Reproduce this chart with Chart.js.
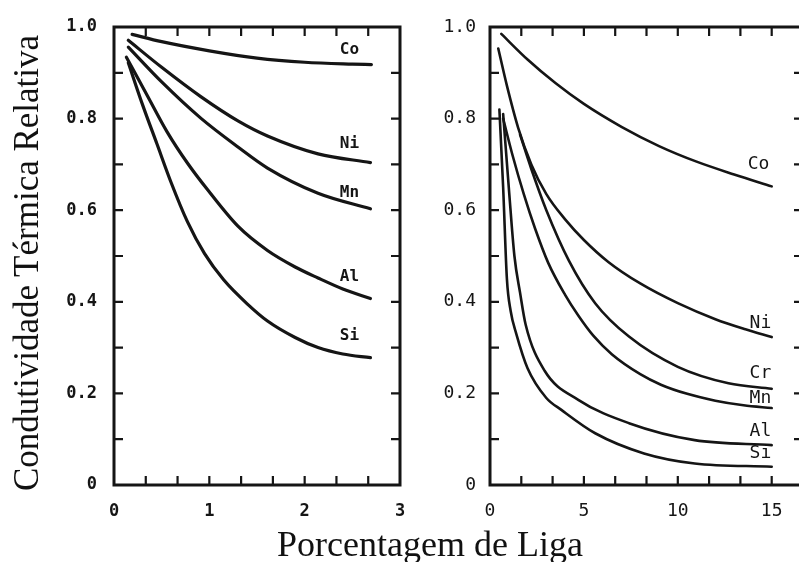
<!DOCTYPE html>
<html lang="pt">
<head>
<meta charset="UTF-8">
<title>Condutividade Térmica Relativa</title>
<script src="https://cdn.jsdelivr.net/npm/chart.js"></script>
<style>
  html, body { margin: 0; padding: 0; background: #fff; overflow: hidden; }
  body { width: 799px; height: 562px; position: relative; }
  .panel { position: absolute; top: 0; height: 562px; }
  #leftBox { left: 0; width: 420px; }
  #rightBox { left: 400px; width: 420px; }
  .serif { position: absolute; color: #111; font-family: 'Liberation Serif', serif; text-align: center; white-space: nowrap; }
  #xTitle { left: 0; width: 860px; top: 526px; font-size: 36px; line-height: 36px; }
  #yTitle {
    left: 27px; top: 263px; width: 520px; height: 40px;
    margin-left: -260px; margin-top: -20px;
    font-size: 35px; line-height: 40px;
    transform: rotate(-90deg);
  }
</style>
</head>
<body>
<div class="panel" id="leftBox"><canvas id="leftChart"></canvas></div>
<div class="panel" id="rightBox"><canvas id="rightChart"></canvas></div>
<div class="serif" id="yTitle">Condutividade Térmica Relativa</div>
<div class="serif" id="xTitle">Porcentagem de Liga</div>

<script>
  // ticks (labels only at the major values)
  const yTickValues = [0, 0.2, 0.4, 0.6, 0.8, 1.0];
  const yTickLabels = ['0', '0.2', '0.4', '0.6', '0.8', '1.0'];
  const leftXTickValues = [0, 1, 2, 3];
  const leftXTickLabels = ['0', '1', '2', '3'];
  const rightXTickValues = [0, 5, 10, 15];
  const rightXTickLabels = ['0', '5', '10', '15'];

  // left panel: 0 - 3 % alloy
  const leftCoX = [0.19, 0.5, 1.0, 1.5, 2.0, 2.5, 2.7];
  const leftCoY = [0.984, 0.968, 0.948, 0.932, 0.923, 0.919, 0.918];
  const leftNiX = [0.15, 0.5, 0.91, 1.3, 1.61, 2.14, 2.69];
  const leftNiY = [0.971, 0.912, 0.848, 0.795, 0.762, 0.723, 0.704];
  const leftMnX = [0.15, 0.5, 0.91, 1.3, 1.61, 2.14, 2.69];
  const leftMnY = [0.956, 0.88, 0.801, 0.738, 0.692, 0.637, 0.603];
  const leftAlX = [0.13, 0.35, 0.56, 0.77, 0.98, 1.3, 1.61, 1.9, 2.14, 2.4, 2.69];
  const leftAlY = [0.934, 0.85, 0.77, 0.703, 0.645, 0.565, 0.512, 0.476, 0.452, 0.428, 0.407];
  const leftSiX = [0.15, 0.3, 0.45, 0.6, 0.77, 0.95, 1.15, 1.4, 1.61, 1.9, 2.14, 2.4, 2.69];
  const leftSiY = [0.922, 0.83, 0.745, 0.66, 0.575, 0.505, 0.448, 0.395, 0.358, 0.322, 0.3, 0.286, 0.278];

  // right panel: 0 - 15 % alloy
  const rightCoX = [0.6, 2, 3.5, 5, 7, 9, 11, 13, 15];
  const rightCoY = [0.985, 0.929, 0.877, 0.832, 0.782, 0.74, 0.706, 0.678, 0.652];
  const rightNiX = [0.44, 0.9, 1.5, 2.2, 3, 4, 5, 6.3, 8, 10, 12, 13.6, 15];
  const rightNiY = [0.953, 0.872, 0.78, 0.7, 0.635, 0.58, 0.535, 0.487, 0.44, 0.397, 0.362, 0.34, 0.323];
  const rightCrX = [1.6, 2.2, 3, 4.2, 5.6, 7.4, 10, 12.7, 15];
  const rightCrY = [0.765, 0.69, 0.6, 0.49, 0.397, 0.324, 0.258, 0.222, 0.21];
  const rightMnX = [0.7, 1.2, 1.8, 2.4, 3.1, 4, 4.7, 5.5, 6.5, 8, 9.1, 10.5, 12, 13.5, 15];
  const rightMnY = [0.8, 0.72, 0.635, 0.56, 0.485, 0.415, 0.37, 0.326, 0.285, 0.242, 0.219, 0.199, 0.184, 0.174, 0.168];
  const rightAlX = [0.7, 1.0, 1.3, 1.6, 1.9, 2.9, 4.7, 7.4, 10.9, 15];
  const rightAlY = [0.81, 0.65, 0.5, 0.42, 0.35, 0.25, 0.186, 0.135, 0.098, 0.087];
  const rightSiX = [0.5, 0.7, 0.9, 1.1, 1.4, 2.0, 3.0, 3.8, 5.6, 8.2, 10.9, 15];
  const rightSiY = [0.82, 0.65, 0.45, 0.38, 0.33, 0.255, 0.19, 0.164, 0.113, 0.069, 0.047, 0.04];

  // curve names and where they sit (data units)
  const leftNames = ['Co', 'Ni', 'Mn', 'Al', 'Si'];
  const leftNameX = [2.47, 2.47, 2.47, 2.47, 2.47];
  const leftNameY = [0.95, 0.745, 0.637, 0.455, 0.325];
  const rightNames = ['Co', 'Ni', 'Cr', 'Mn', 'Al', 'Si'];
  const rightNameX = [14.3, 14.4, 14.4, 14.4, 14.4, 14.4];
  const rightNameY = [0.70, 0.352, 0.243, 0.19, 0.118, 0.07];

  const ink = '#151515';

  function pts(xs, ys) {
    return xs.map((x, i) => ({ x: x, y: ys[i] }));
  }

  function tickText(values, labels) {
    return v => {
      const i = values.findIndex(t => Math.abs(t - v) < 1e-6);
      return i >= 0 ? labels[i] : '';
    };
  }

  // box + inward tick marks on all four sides
  const framePlugin = {
    id: 'frame',
    afterDatasetsDraw(chart, args, opts) {
      const { ctx, chartArea: a, scales: { x, y } } = chart;
      const L = opts.tickLength;
      ctx.save();
      ctx.strokeStyle = ink;
      ctx.lineWidth = opts.width;
      ctx.strokeRect(a.left, a.top, a.right - a.left, a.bottom - a.top);
      ctx.lineWidth = opts.tickWidth;
      ctx.beginPath();
      x.ticks.forEach(t => {
        const px = x.getPixelForValue(t.value);
        if (px <= a.left + 1 || px >= a.right - 1) return;
        ctx.moveTo(px, a.bottom); ctx.lineTo(px, a.bottom - L);
        ctx.moveTo(px, a.top); ctx.lineTo(px, a.top + L);
      });
      y.ticks.forEach(t => {
        const py = y.getPixelForValue(t.value);
        if (py <= a.top + 1 || py >= a.bottom - 1) return;
        ctx.moveTo(a.left, py); ctx.lineTo(a.left + L, py);
        ctx.moveTo(a.right, py); ctx.lineTo(a.right - L, py);
      });
      ctx.stroke();
      ctx.restore();
    }
  };

  const namePlugin = {
    id: 'names',
    afterDatasetsDraw(chart, args, opts) {
      const { ctx, scales: { x, y } } = chart;
      ctx.save();
      ctx.fillStyle = ink;
      ctx.font = opts.font;
      ctx.textAlign = 'center';
      ctx.textBaseline = 'middle';
      opts.names.forEach((n, i) => {
        ctx.fillText(n, x.getPixelForValue(opts.xs[i]), y.getPixelForValue(opts.ys[i]));
      });
      ctx.restore();
    }
  };

  function makeChart(id, cfg) {
    const datasets = cfg.series.map(s => ({
      data: pts(s[0], s[1]),
      showLine: true,
      borderColor: ink,
      borderWidth: cfg.lineWidth,
      borderCapStyle: 'round',
      pointRadius: 0,
      fill: false,
      cubicInterpolationMode: 'monotone'
    }));

    new Chart(document.getElementById(id), {
      type: 'scatter',
      data: { datasets: datasets },
      options: {
        responsive: true,
        maintainAspectRatio: false,
        animation: false,
        layout: { padding: { top: 27, right: cfg.padRight, left: 0, bottom: 0 } },
        plugins: {
          legend: { display: false },
          tooltip: { enabled: false },
          frame: { width: 3, tickWidth: 2.2, tickLength: 9 },
          names: { names: cfg.names, xs: cfg.nameX, ys: cfg.nameY, font: cfg.nameFont }
        },
        scales: {
          x: {
            type: 'linear',
            min: 0,
            max: cfg.xMax,
            afterFit: s => { s.height = 77; },
            grid: { display: false },
            border: { display: false },
            ticks: {
              stepSize: cfg.xStep,
              autoSkip: false,
              maxRotation: 0,
              padding: 8,
              color: ink,
              font: cfg.tickFont,
              callback: tickText(cfg.xTickValues, cfg.xTickLabels)
            }
          },
          y: {
            min: 0,
            max: 1,
            afterFit: s => { s.width = cfg.yWidth; },
            grid: { display: false },
            border: { display: false },
            ticks: {
              stepSize: 0.1,
              autoSkip: false,
              padding: cfg.yPad,
              color: ink,
              font: cfg.tickFont,
              callback: tickText(yTickValues, yTickLabels)
            }
          }
        }
      },
      plugins: [framePlugin, namePlugin]
    });
  }

  makeChart('leftChart', {
    series: [[leftCoX, leftCoY], [leftNiX, leftNiY], [leftMnX, leftMnY], [leftAlX, leftAlY], [leftSiX, leftSiY]],
    lineWidth: 3.2,
    xMax: 3,
    xStep: 1 / 3,
    xTickValues: leftXTickValues,
    xTickLabels: leftXTickLabels,
    padRight: 20,
    yWidth: 114,
    yPad: 9,
    tickFont: { family: 'DejaVu Sans Mono', size: 17, weight: 'bold' },
    names: leftNames, nameX: leftNameX, nameY: leftNameY,
    nameFont: 'bold 16px "DejaVu Sans Mono"'
  });

  makeChart('rightChart', {
    series: [[rightCoX, rightCoY], [rightNiX, rightNiY], [rightCrX, rightCrY], [rightMnX, rightMnY], [rightAlX, rightAlY], [rightSiX, rightSiY]],
    lineWidth: 2.6,
    xMax: 50 / 3,
    xStep: 5 / 3,
    xTickValues: rightXTickValues,
    xTickLabels: rightXTickLabels,
    padRight: 17,
    yWidth: 90,
    yPad: 6,
    tickFont: { family: 'DejaVu Sans Mono', size: 18, weight: 'normal' },
    names: rightNames, nameX: rightNameX, nameY: rightNameY,
    nameFont: '18px "DejaVu Sans Mono"'
  });
</script>
</body>
</html>
